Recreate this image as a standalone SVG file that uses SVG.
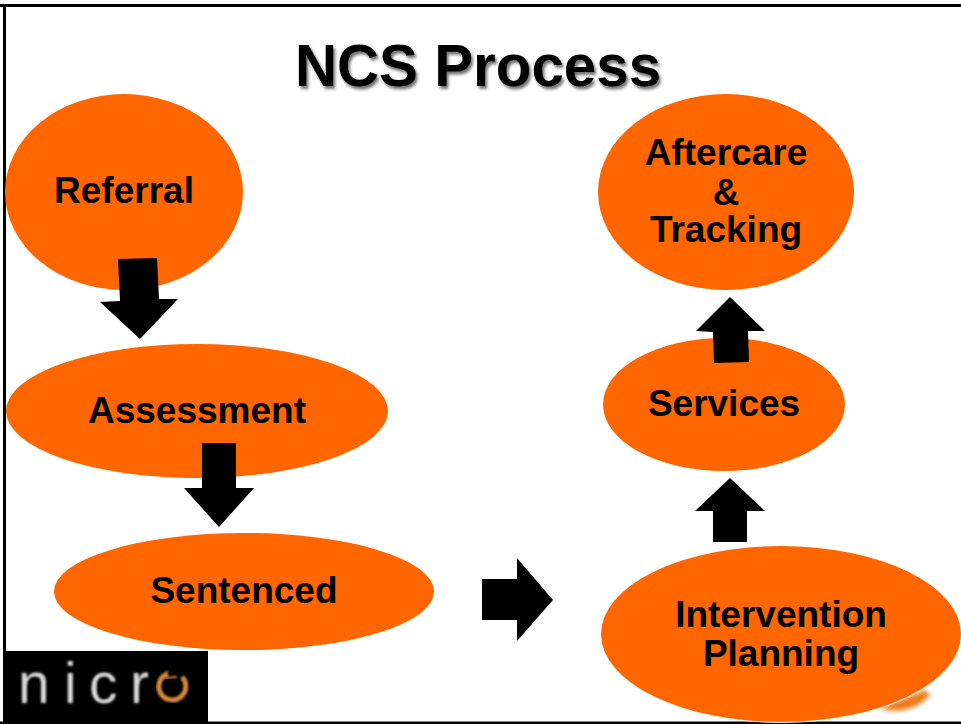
<svg xmlns="http://www.w3.org/2000/svg" width="961" height="724" viewBox="0 0 961 724">
<style>
.n{fill:#ff6600}
.t{font-family:"Liberation Sans",Arial,sans-serif;font-weight:700;font-size:37px;fill:#000;text-anchor:middle}
.a{fill:#000}
.l{font-family:"Liberation Sans",Arial,sans-serif;font-size:57px;fill:#d8d8d8;filter:url(#b)}
</style>
<defs>
<filter id="s" x="-5%" y="-10%" width="110%" height="130%"><feGaussianBlur in="SourceAlpha" stdDeviation="1.5"/><feOffset dx="2" dy="3"/><feComponentTransfer><feFuncA type="linear" slope="0.55"/></feComponentTransfer><feMerge><feMergeNode/><feMergeNode in="SourceGraphic"/></feMerge></filter>
<filter id="b" x="-10%" y="-10%" width="120%" height="120%"><feGaussianBlur stdDeviation="0.8"/></filter>
<filter id="b2" x="-20%" y="-20%" width="140%" height="140%"><feGaussianBlur stdDeviation="2"/></filter>
</defs>
<rect width="961" height="724" fill="#fff"/>
<path d="M880 709Q912 716 930 695L925 690L890 704Z" fill="#ed7d1a" filter="url(#b2)"/>
<rect x="0" y="4" width="961" height="3" fill="#000"/>
<rect x="3" y="4" width="3" height="720" fill="#000"/>
<rect x="0" y="721.500" width="961" height="2.500" fill="#000"/>
<text x="478" y="86" font-family="'Liberation Sans',Arial,sans-serif" font-weight="700" font-size="58.300" text-anchor="middle" filter="url(#s)">NCS Process</text>
<g id="node-referral"><ellipse class="n" cx="124" cy="192" rx="119" ry="98"/><text class="t" x="124" y="203">Referral</text></g>
<g id="node-assessment"><ellipse class="n" cx="197" cy="411" rx="191" ry="67"/><text class="t" x="197" y="423">Assessment</text></g>
<g id="node-sentenced"><ellipse class="n" cx="244" cy="591.500" rx="190" ry="58.500"/><text class="t" x="244" y="603">Sentenced</text></g>
<g id="node-intervention"><ellipse class="n" cx="781" cy="634" rx="180" ry="88" stroke="#fff" stroke-width="2" paint-order="stroke"/><text class="t" x="781" y="627">Intervention</text><text class="t" x="781" y="666">Planning</text></g>
<g id="node-services"><ellipse class="n" cx="724" cy="404.500" rx="121" ry="66.500"/><text class="t" x="724" y="416">Services</text></g>
<g id="node-aftercare"><ellipse class="n" cx="726" cy="192" rx="128" ry="98"/><text class="t" x="726" y="165">Aftercare</text><text class="t" x="726" y="205">&amp;</text><text class="t" x="726" y="242">Tracking</text></g>
<g id="connectors">
<polygon class="a" points="118,259 157,258 159,299 178,299 140,339 100,302 120,301"/>
<polygon class="a" points="202,443 236,443 236,488 254,488 219,527 184,488 202,488"/>
<polygon class="a" points="482,579 517,579 517,558 553,600 517,641 517,620 482,620"/>
<polygon class="a" points="713,542 747,542 747,511 765,511 730,478 695,511 713,511"/>
<polygon class="a" points="714,363 749,362 748,331 765,331 730,297 696,331 713,332"/>
</g>
<g id="logo">
<rect x="3" y="651" width="205" height="71" fill="#000"/>
<g class="l"><text x="18" y="703">n</text><text x="64" y="703">i</text><text x="89" y="703">c</text><text x="130" y="703">r</text></g>
<path d="M167 674A13.500 13.500 0 1 0 182 677" fill="none" stroke="#d98a3a" stroke-width="5" filter="url(#b)"/>
<path d="M167 671L166 678L177 677" fill="none" stroke="#d98a3a" stroke-width="2" filter="url(#b)"/>
</g>
</svg>
